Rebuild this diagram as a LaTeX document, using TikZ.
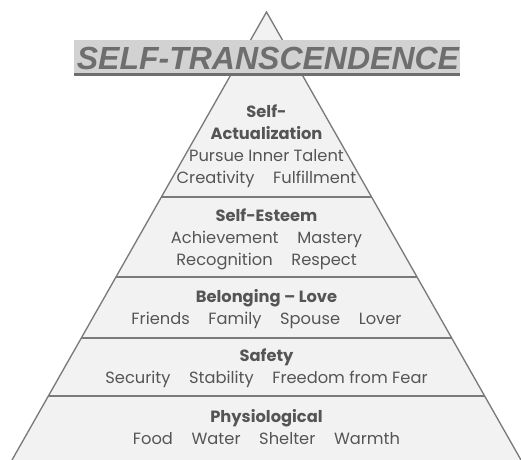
\documentclass[tikz,border=0pt]{standalone}
\usepackage{fontspec}
\setmainfont{Poppins}
\newfontfamily\bannerfont{Liberation Sans}
\usepackage{tikz}
\usetikzlibrary{calc}

\definecolor{tierfill}{HTML}{F2F2F2}
\definecolor{tierline}{HTML}{7A7A7A}
\definecolor{tiertext}{HTML}{555555}
\definecolor{bannerfill}{HTML}{D2D2D2}
\definecolor{bannertext}{HTML}{6E6E6E}

\newcommand{\gap}{\hspace{14pt}}

\begin{document}
\begin{tikzpicture}[
  x=0.75pt, y=-0.75pt,
  tier/.style={align=center, text=tiertext, font=\fontsize{12.2}{16.5}\selectfont, inner sep=0pt},
  sep/.style={draw=tierline, line width=1pt}
]
\useasboundingbox (0,0) rectangle (521,460);
\coordinate (apex) at (266.5,12);
\coordinate (bl) at (12,460);
\coordinate (br) at (521,460);

% pyramid
\fill[tierfill] (apex) -- (bl) -- (br) -- cycle;
\draw[tierline, line width=1pt] (bl) -- (apex) -- (br);

% tier separators
\foreach \t/\n in {0.4129/a, 0.5915/b, 0.7277/c, 0.8571/d}{
  \coordinate (l\n) at ($(apex)!\t!(bl)$);
  \coordinate (r\n) at ($(apex)!\t!(br)$);
  \draw[sep] (l\n) -- (r\n);
}

% banner
\fill[bannerfill] (74,40) rectangle (460,73);
\fill[bannertext] (74,73) rectangle (460,76);
\node[text=bannertext, font=\bannerfont\bfseries\itshape\fontsize{24}{24}\selectfont, inner sep=0pt] (title) at (268,58) {SELF-TRANSCENDENCE};

% tiers
\node[tier] (selfact) at (266.5,146.5) {\textbf{Self-}\\\textbf{Actualization}\\Pursue Inner Talent\\Creativity\gap Fulfillment};
\node[tier] (esteem) at (266.5,239) {\textbf{Self-Esteem}\\Achievement\gap Mastery\\Recognition\gap Respect};
\node[tier] (belong) at (266.5,309.5) {\textbf{Belonging -- Love}\\Friends\gap Family\gap Spouse\gap Lover};
\node[tier] (safety) at (266.5,368) {\textbf{Safety}\\Security\gap Stability\gap Freedom from Fear};
\node[tier] (physio) at (266.5,427) {\textbf{Physiological}\\Food\gap Water\gap Shelter\gap Warmth};
\end{tikzpicture}
\end{document}
